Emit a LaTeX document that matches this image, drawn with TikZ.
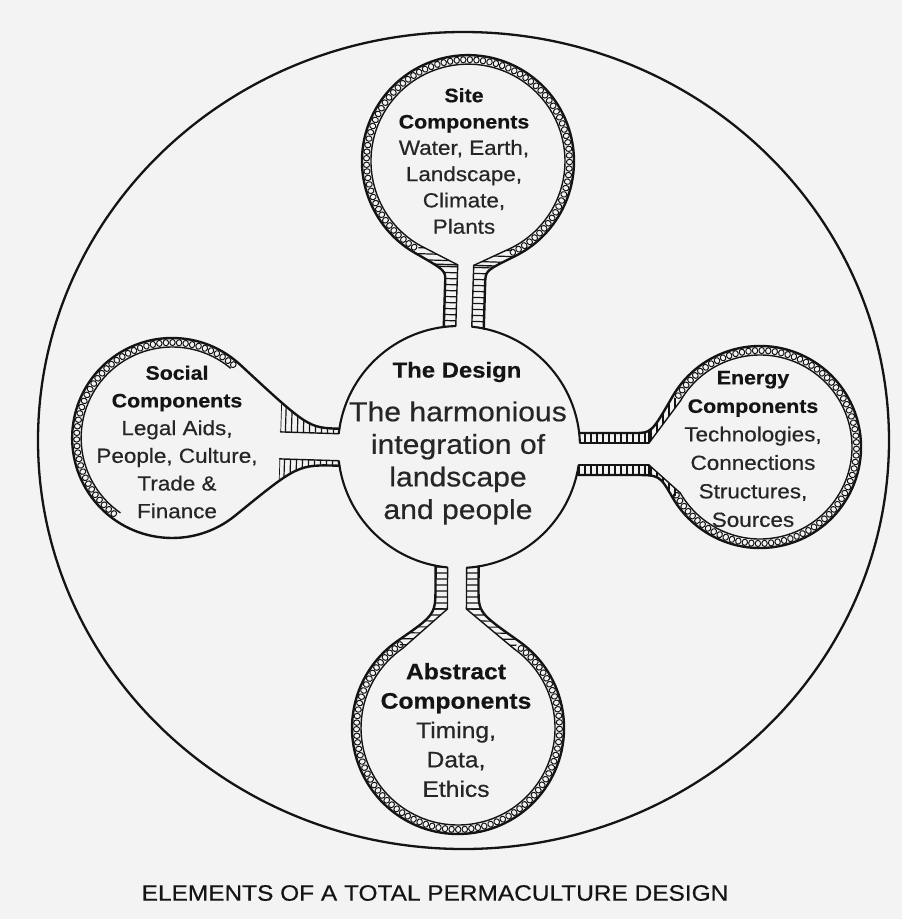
\documentclass[tikz,border=0pt]{standalone}
\usepackage{fontspec}
\setmainfont{Liberation Sans}[FakeStretch=1.1,FakeBold=0.5]
\usetikzlibrary{calc}
\definecolor{bg}{RGB}{243,243,243}
\definecolor{ink}{RGB}{20,20,20}
\definecolor{txt}{RGB}{38,38,38}
\newcommand\dtitle[2]{{\fontsize{#1}{10}\selectfont\bfseries\color{ink}#2}}
\newcommand\drawlobe{%
 \pgfmathsetmacro\lRi{\lR-\lW}%
 \pgfmathsetmacro\lH{\lG+\lT}%
 \pgfmathsetmacro\lRm{\lR-\lW/2}%
 \pgfmathsetmacro\lTx{\lD+\lR*cos(\lTh)}%
 \pgfmathsetmacro\lTy{\lR*sin(\lTh)}%
 \pgfmathsetmacro\lIx{\lD+\lRi*cos(\lTh)}%
 \pgfmathsetmacro\lIy{\lRi*sin(\lTh)}%
 \pgfmathsetmacro\lStep{6.6/\lRm*180/pi}%
 \pgfmathsetmacro\lHs{\lHa+\lStep}%
 \begin{scope}[shift={(459,-447)},rotate=\lRot]
  \foreach \sg in {1,-1}{%
   \pgfmathsetmacro\vo{\lO+\sg*\lH}%
   \pgfmathsetmacro\vi{\lO+\sg*\lG}%
   \pgfmathsetmacro\co{sqrt(121*121-(\vo)*(\vo))}%
   \pgfmathsetmacro\ci{sqrt(121*121-(\vi)*(\vi))}%
   \pgfmathsetmacro\kx{\lTx+(\lTy-\sg*(\lO)-\lH)/cos(\lTh)*sin(\lTh)}%
   \pgfmathsetmacro\qx{max(\lQ,\co)}%
   \begin{scope}
    \clip (\co,\vo) -- (\qx,\vo) .. controls (\kx,\vo) .. (\lTx,\sg*\lTy) -- (\lIx,\sg*\lIy) -- (\lL,\vi) -- (\ci,\vi) -- cycle;
    \ifnum\lFull=0 \clip (0,-200) rectangle (\lL,200);\fi
    \foreach \rr in {96,102,...,264} \draw[rung] (\rr,-140) -- (\rr,140);
    \draw[inner] (\lL,\vi) -- (\lL,\sg*140);
   \end{scope}
   \draw[inner] (\ci,\vi) -- (\lL,\vi);
   \ifnum\lFull=1 \draw[inner] (\lL,\vi) -- (\lIx,\sg*\lIy);\fi
   \draw[outer] (\co,\vo) -- (\qx,\vo) .. controls (\kx,\vo) .. (\lTx,\sg*\lTy);
  }
  \draw[outer] (\lTx,\lTy) arc[start angle=\lTh,end angle=-\lTh,radius=\lR];
  \draw[inner] ($(\lD,0)+(\lHb:\lRi)$) arc[start angle=\lHb,end angle=\lHa,radius=\lRi];
  \foreach \aa in {\lHa,\lHs,...,\lHb}
   \draw[link,rotate around={\aa:(\lD,0)}] (\lD+\lRm,0) ellipse[x radius=3.1,y radius=2.7];
 \end{scope}}
\begin{document}
\begin{tikzpicture}[x=1bp,y=1bp,
  outer/.style={draw=ink,line width=2.4bp,line cap=round,line join=round},
  inner/.style={draw=ink,line width=1.4bp,line cap=round,line join=round},
  link/.style={draw=ink,line width=1bp},
  rung/.style={draw=ink,line width=1.2bp},
  cline/.style={draw=ink,line width=2.1bp},
  lbl/.style={align=center,text=txt,inner sep=0pt}]
\useasboundingbox (0,0) rectangle (902,-919);
\fill[bg] (0,0) rectangle (902,-919);
% outer boundary
\draw[cline,line width=2.3bp] (463.5,-440.5) ellipse[x radius=425.5,y radius=408.5];
% Site lobe (top)
\def\lRot{88.2}\def\lD{286}\def\lR{106}\def\lW{9}\def\lG{8}\def\lT{12}\def\lO{-1}
\def\lTh{152}\def\lQ{165}\def\lL{182}\def\lFull{1}\def\lHa{-152}\def\lHb{152}
\drawlobe
% Social lobe (left)
\def\lRot{178.2}\def\lD{287}\def\lR{100}\def\lW{9}\def\lG{13.5}\def\lT{5}\def\lO{4}
\def\lTh{131}\def\lQ{0}\def\lL{179}\def\lFull{0}\def\lHa{-128}\def\lHb{57}
\drawlobe
% Energy lobe (right)
\def\lRot{0}\def\lD{301}\def\lR{101}\def\lW{9}\def\lG{11}\def\lT{10}\def\lO{-7}
\def\lTh{150}\def\lQ{175}\def\lL{190}\def\lFull{1}\def\lHa{-150}\def\lHb{150}
\drawlobe
% Abstract lobe (bottom)
\def\lRot{269.8}\def\lD{281}\def\lR{106}\def\lW{9}\def\lG{9.5}\def\lT{12}\def\lO{-1.5}
\def\lTh{145}\def\lQ{140}\def\lL{162}\def\lFull{1}\def\lHa{-145}\def\lHb{145}
\drawlobe
% central circle with openings
\pgfmathsetmacro\eLo{360+asin((-7-11)/121)}
\pgfmathsetmacro\eHi{asin((-7+11)/121)}
\pgfmathsetmacro\sLo{88.2+asin((-1-8)/121)}
\pgfmathsetmacro\sHi{88.2+asin((-1+8)/121)}
\pgfmathsetmacro\oLo{178.2+asin((4-13.5)/121)}
\pgfmathsetmacro\oHi{178.2+asin((4+13.5)/121)}
\pgfmathsetmacro\aLo{269.8+asin((-1.5-9.5)/121)}
\pgfmathsetmacro\aHi{269.8+asin((-1.5+9.5)/121)}
\coordinate (c) at (459,-447);
\draw[cline] ($(c)+(\eHi:121)$) arc[start angle=\eHi,end angle=\sLo,radius=121];
\draw[cline] ($(c)+(\sHi:121)$) arc[start angle=\sHi,end angle=\oLo,radius=121];
\draw[cline] ($(c)+(\oHi:121)$) arc[start angle=\oHi,end angle=\aLo,radius=121];
\draw[cline] ($(c)+(\aHi:121)$) arc[start angle=\aHi,end angle=\eLo,radius=121];
% texts
\node[lbl,font=\fontsize{20.5}{26.4}\selectfont] (site) at (464,-161)
 {\dtitle{19.5}{Site}\\\dtitle{19.5}{Components}\\Water, Earth,\\Landscape,\\Climate,\\Plants};
\node[lbl,font=\fontsize{20.5}{27.8}\selectfont] (social) at (177,-442)
 {\dtitle{19.5}{Social}\\\dtitle{19.5}{Components}\\Legal Aids,\\People, Culture,\\Trade \&\\Finance};
\node[lbl,font=\fontsize{20.5}{28.6}\selectfont] (energy) at (753,-449)
 {\dtitle{19.5}{Energy}\\\dtitle{19.5}{Components}\\Technologies,\\Connections\\Structures,\\Sources};
\node[lbl,font=\fontsize{22.5}{29.5}\selectfont] (abstract) at (456,-730)
 {\dtitle{22.5}{Abstract}\\\dtitle{22.5}{Components}\\Timing,\\Data,\\Ethics};
\node[lbl,font=\fontsize{21.8}{26}\selectfont\bfseries,text=ink] (design) at (457,-372) {The Design};
\node[lbl,font=\fontsize{27.5}{32.7}\selectfont] (harmony) at (458,-463)
 {The harmonious\\integration of\\landscape\\and people};
\node[lbl,font=\fontsize{22.3}{26}\selectfont,text=ink] (caption) at (435,-893)
 {ELEMENTS OF A TOTAL PERMACULTURE DESIGN};
\end{tikzpicture}
\end{document}
